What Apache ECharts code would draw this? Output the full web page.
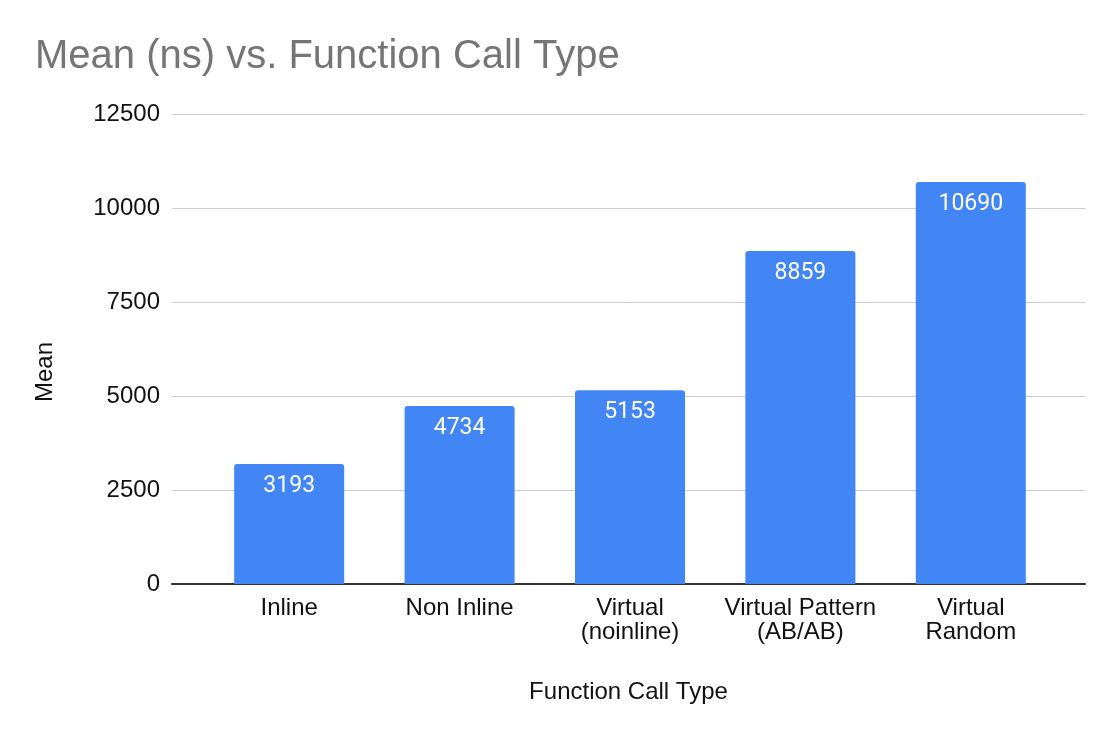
<!DOCTYPE html>
<html>
<head>
<meta charset="utf-8">
<script src="https://cdn.jsdelivr.net/npm/echarts@6/dist/echarts.min.js"></script>
<style>html,body{margin:0;padding:0;background:#fff}#c{width:1120px;height:742px}</style>
</head>
<body>
<div id="c"></div>
<script>
const categories = ["Inline", "Non Inline", "Virtual\n(noinline)", "Virtual Pattern\n(AB/AB)", "Virtual\nRandom"];
const meanValues = [3193, 4734, 5153, 8859, 10690];
const yMin = 0, yMax = 12500, yStep = 2500;

const chart = echarts.init(document.getElementById('c'), null, {renderer: 'canvas'});
const font = '"Liberation Sans", Arial, sans-serif';
chart.setOption({
  animation: false,
  backgroundColor: '#fff',
  title: {
    text: 'Mean (ns) vs. Function Call Type',
    left: 35, top: 37, padding: 0,
    textStyle: {fontFamily: font, fontSize: 40, fontWeight: 'normal', color: '#757575'}
  },
  grid: [
    {left: 172, right: 35, top: 114, bottom: 158},
    {left: 204, right: 64, top: 114, bottom: 158}
  ],
  xAxis: [
    {
      gridIndex: 0, type: 'value', min: 0, max: 1,
      axisLine: {show: true, lineStyle: {color: '#333', width: 2}},
      axisTick: {show: false}, axisLabel: {show: false}, splitLine: {show: false},
      name: 'Function Call Type', nameLocation: 'middle', nameGap: 96,
      nameTextStyle: {fontFamily: font, fontSize: 24, color: '#111'}
    },
    {
      gridIndex: 1, type: 'category', data: categories,
      axisLine: {show: false}, axisTick: {show: false},
      axisLabel: {fontFamily: font, fontSize: 24, lineHeight: 24, color: '#111', margin: 12, interval: 0}
    }
  ],
  yAxis: [
    {
      gridIndex: 0, type: 'value', min: yMin, max: yMax, interval: yStep,
      axisLine: {show: false}, axisTick: {show: false},
      axisLabel: {fontFamily: font, fontSize: 24, color: '#111', margin: 12,
        formatter: v => String(v)},
      splitLine: {lineStyle: {color: '#cccccc', width: 1}},
      name: 'Mean', nameLocation: 'middle', nameRotate: 90, nameGap: 115,
      nameTextStyle: {fontFamily: font, fontSize: 24, color: '#111', padding: [0, 46, 0, 0]}
    },
    {
      gridIndex: 1, type: 'value', min: yMin, max: yMax, interval: yStep, show: false
    }
  ],
  series: [{
    type: 'bar', xAxisIndex: 1, yAxisIndex: 1,
    data: meanValues, barWidth: 110,
    itemStyle: {color: '#4285F4', borderRadius: [3, 3, 0, 0]},
    label: {show: true, position: 'insideTop', distance: 11, color: '#fff',
      fontFamily: 'Roboto, sans-serif', fontSize: 23}
  }]
});
</script>
</body>
</html>
